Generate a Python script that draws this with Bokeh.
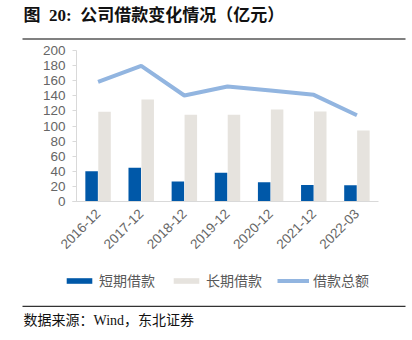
import math
from bokeh.plotting import figure
from bokeh.models import (Label, BoxAnnotation, Legend, LegendItem, ColumnDataSource,
                          Range1d, FixedTicker)
from bokeh.embed import file_html
from bokeh.resources import INLINE

categories = ["2016-12", "2017-12", "2018-12", "2019-12", "2020-12", "2021-12", "2022-03"]
short_loans = [40.2, 44.6, 26.5, 38.0, 25.6, 22.0, 21.6]
long_loans = [118.8, 135.0, 114.8, 114.8, 121.8, 119.2, 94.0]
total_loans = [158.5, 179.7, 140.4, 152.3, 147.0, 141.3, 114.3]
y_ticks = list(range(0, 201, 20))

title_text = "图\u00a0\u00a020:\u00a0\u00a0公司借款变化情况（亿元）"
source_text = "数据来源：Wind，东北证券"
series_names = ["短期借款", "长期借款", "借款总额"]

BLUE = "#0058A8"
GRAY = "#E6E3DE"
LINE = "#92B5E0"
AXIS = "#D9D9D9"
serif = "'Liberation Serif', 'Noto Sans CJK SC'"

W, H = 412, 340
# plot-area placement on the canvas (pixels)
PL, PR, PT, PB = 76.0, 378.0, 50.0, 201.0
n = len(categories)
xs = list(range(n))
ppx = (PR - PL) / n                      # px per category
x0 = -0.5 - PL / ppx
x1 = x0 + W / ppx
ymax = max(y_ticks)
ppy = (PB - PT) / ymax
ytop = ymax + PT / ppy
ybot = -(H - PB) / ppy

src = ColumnDataSource(dict(x=xs, short=short_loans, long=long_loans, total=total_loans))

p = figure(width=W, height=H, x_range=Range1d(x0, x1), y_range=Range1d(ybot, ytop),
           output_backend="svg", toolbar_location=None,
           min_border=0, min_border_left=0, min_border_right=0,
           min_border_top=0, min_border_bottom=0)
p.background_fill_color = "white"
p.border_fill_color = "white"
p.outline_line_color = None
p.grid.visible = False

r1 = p.vbar(x=[v - 0.15 for v in xs], top=short_loans, width=0.29,
            fill_color=BLUE, line_color=None)
r2 = p.vbar(x=[v + 0.15 for v in xs], top=long_loans, width=0.29,
            fill_color=GRAY, line_color=None)
r3 = p.line(x="x", y="total", source=src, line_color=LINE, line_width=4)

xa = p.xaxis[0]
xa.fixed_location = 0
xa.bounds = (-0.5 - 4 / ppx, n - 0.5)
xa.ticker = FixedTicker(ticks=xs)
xa.major_label_overrides = {i: c for i, c in enumerate(categories)}
xa.major_label_orientation = math.pi / 4
xa.major_label_standoff = 4
xa.major_label_text_font_size = "13.5px"
xa.major_tick_line_color = None

ya = p.yaxis[0]
ya.fixed_location = -0.5
ya.bounds = (0, ymax)
ya.ticker = FixedTicker(ticks=y_ticks)
ya.major_tick_in = 0
ya.major_tick_out = 4
ya.major_tick_line_color = AXIS
ya.major_label_standoff = 7
ya.major_label_text_font_size = "13.5px"

for ax in (xa, ya):
    ax.axis_line_color = AXIS
    ax.minor_tick_line_color = None
    ax.major_label_text_color = "#666666"
    ax.major_label_text_font = "Liberation Sans"

legend = Legend(items=[LegendItem(label=series_names[0], renderers=[r1]),
                       LegendItem(label=series_names[1], renderers=[r2]),
                       LegendItem(label=series_names[2], renderers=[r3])],
                orientation="horizontal", location=(63, H - 290),
                padding=0, margin=0, spacing=15, label_standoff=4,
                glyph_width=32, glyph_height=7, label_height=20,
                label_text_font="Noto Sans CJK SC", label_text_font_size="14px",
                label_text_color="#595959",
                border_line_color=None, background_fill_alpha=0)
p.add_layout(legend, "center")


def sy(y):
    return H - y


p.add_layout(Label(x=23, y=sy(15), x_units="screen", y_units="screen", text=title_text,
                   text_baseline="middle", text_font=serif, text_font_size="17px",
                   text_font_style="bold", text_color="#111111"))
p.add_layout(BoxAnnotation(left=22, right=405, top=sy(37.5), bottom=sy(39.5),
                           left_units="screen", right_units="screen",
                           top_units="screen", bottom_units="screen",
                           fill_color="#808080", fill_alpha=1, line_color=None))
p.add_layout(BoxAnnotation(left=22, right=405, top=sy(305.2), bottom=sy(306.5),
                           left_units="screen", right_units="screen",
                           top_units="screen", bottom_units="screen",
                           fill_color="#333333", fill_alpha=1, line_color=None))
p.add_layout(Label(x=23, y=sy(320), x_units="screen", y_units="screen", text=source_text,
                   text_baseline="middle", text_font=serif, text_font_size="14px",
                   text_color="#111111"))

open("out.html", "w").write(file_html(p, INLINE))
